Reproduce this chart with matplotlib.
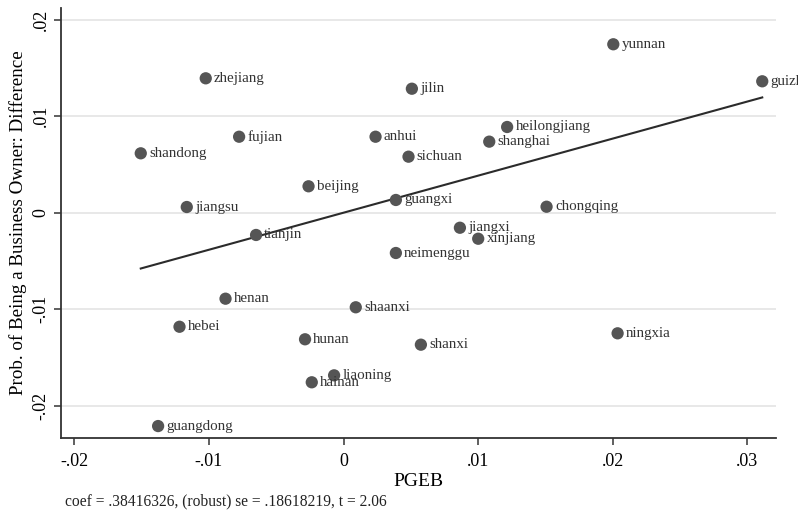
import matplotlib
matplotlib.use("Agg")
import matplotlib.pyplot as plt
import numpy as np

# province-level PGEB vs difference in probability of being a business owner
provinces = ["yunnan", "guizhou", "zhejiang", "jilin", "fujian", "anhui",
             "heilongjiang", "shanghai", "sichuan", "shandong", "beijing",
             "guangxi", "jiangsu", "chongqing", "tianjin", "jiangxi",
             "xinjiang", "neimenggu", "henan", "shaanxi", "hebei", "ningxia",
             "hunan", "shanxi", "liaoning", "hainan", "guangdong"]
pgeb = [0.02005, 0.03112, -0.01024, 0.00508, -0.00776, 0.00238,
        0.01216, 0.01083, 0.00483, -0.01507, -0.00260,
        0.00389, -0.01165, 0.01509, -0.00650, 0.00865,
        0.01001, 0.00389, -0.00877, 0.00091, -0.01219, 0.02037,
        -0.00286, 0.00575, -0.00070, -0.00236, -0.01378]
diff = [0.01747, 0.01363, 0.01394, 0.01286, 0.00788, 0.00788,
        0.00889, 0.00737, 0.00581, 0.00616, 0.00274,
        0.00132, 0.00059, 0.00062, -0.00231, -0.00156,
        -0.00270, -0.00418, -0.00892, -0.00981, -0.01183, -0.01251,
        -0.01313, -0.01369, -0.01687, -0.01759, -0.02213]

# regression results (slope from the note, constant ~0)
coef = 0.38416326
icpt = 0.0
se = 0.18618219
tstat = 2.06

xticks = [-0.02, -0.01, 0, 0.01, 0.02, 0.03]
xticklabels = ["-.02", "-.01", "0", ".01", ".02", ".03"]
yticks = [-0.02, -0.01, 0, 0.01, 0.02]
yticklabels = ["-.02", "-.01", "0", ".01", ".02"]

plt.rcParams["font.family"] = ["Liberation Serif", "DejaVu Serif"]

fig = plt.figure(figsize=(7.98, 5.11), dpi=100)
ax = fig.add_axes([0.0764, 0.1434, 0.8960, 0.8409])

x = np.array(pgeb)
y = np.array(diff)

xl = np.array([x.min(), x.max()])
ax.plot(xl, icpt + coef * xl, color="#2b2b2b", lw=1.5, zorder=3)

ax.scatter(x, y, s=78, color="#555555", edgecolors="none", zorder=4)
for name, px, py in zip(provinces, x, y):
    ax.annotate(name, (px, py), xytext=(6, 0), textcoords="offset points",
                ha="left", va="center", fontsize=10.8, color="#333333",
                annotation_clip=False, zorder=5)

ax.set_xlim(-0.0210, 0.03214)
ax.set_ylim(-0.02334, 0.02123)
ax.set_xticks(xticks)
ax.set_xticklabels(xticklabels, fontsize=13)
ax.set_yticks(yticks)
ax.set_yticklabels(yticklabels, fontsize=13, rotation=90, va="center")
ax.tick_params(axis="x", direction="out", length=5, width=1.2,
               color="#444444", pad=6)
ax.tick_params(axis="y", direction="out", length=5, width=1.2,
               color="#444444", pad=3)
ax.grid(axis="y", color="#e6e6e6", lw=1.3)
ax.set_axisbelow(True)

for s in ["top", "right"]:
    ax.spines[s].set_visible(False)
for s in ["left", "bottom"]:
    ax.spines[s].set_color("#333333")
    ax.spines[s].set_linewidth(1.3)

ax.set_xlabel("PGEB", fontsize=14, labelpad=2)
ax.set_ylabel("Prob. of Being a Business Owner: Difference", fontsize=13.7,
              labelpad=4)

fig.text(0.0815, 0.004,
         f"coef = {str(coef)[1:]}, (robust) se = {str(se)[1:]}, t = {tstat}",
         fontsize=11.2, color="#222222", ha="left", va="bottom")

fig.savefig("out.png", dpi=100)
